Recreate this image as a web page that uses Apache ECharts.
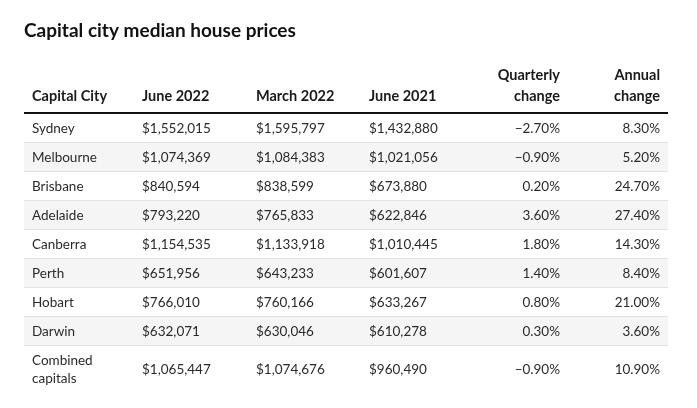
<!DOCTYPE html>
<html>
<head>
<meta charset="utf-8">
<script src="https://cdn.jsdelivr.net/npm/echarts@6/dist/echarts.min.js"></script>
<style>html,body{margin:0;padding:0;background:#fff;}#c{width:697px;height:408px;}</style>
</head>
<body>
<div id="c"></div>
<script>
const titleText = 'Capital city median house prices';
const headers = ['Capital City', 'June 2022', 'March 2022', 'June 2021', 'Quarterly\nchange', 'Annual\nchange'];
const cities = ['Sydney','Melbourne','Brisbane','Adelaide','Canberra','Perth','Hobart','Darwin','Combined\ncapitals'];
const june2022 = [1552015,1074369,840594,793220,1154535,651956,766010,632071,1065447];
const march2022 = [1595797,1084383,838599,765833,1133918,643233,760166,630046,1074676];
const june2021 = [1432880,1021056,673880,622846,1010445,601607,633267,610278,960490];
const quarterly = [-2.70,-0.90,0.20,3.60,1.80,1.40,0.80,0.30,-0.90];
const annual = [8.30,5.20,24.70,27.40,14.30,8.40,21.00,3.60,10.90];

const FONT = 'Lato';
const colX = [32, 142, 256, 369, 560, 660];
const colAlign = ['left','left','left','left','right','right'];
const tableLeft = 24, tableRight = 668;

function money(v){ return '$' + v.toLocaleString('en-US'); }
function pct(v){ return (v < 0 ? '\u2212' : '') + Math.abs(v).toFixed(2) + '%'; }

const rows = cities.map((c, i) => [i, c, money(june2022[i]), money(march2022[i]), money(june2021[i]), pct(quarterly[i]), pct(annual[i])]);

const chart = echarts.init(document.getElementById('c'), null, {renderer: 'canvas'});

const headerGraphics = headers.map((h, i) => {
  const multi = h.indexOf('\n') >= 0;
  return {
    type: 'text',
    x: colX[i],
    y: multi ? 106.5 : 96.5,
    style: {
      text: h,
      font: 'bold 14.5px ' + FONT,
      fill: '#1a1a1a',
      textAlign: colAlign[i],
      textVerticalAlign: multi ? 'bottom' : 'middle',
      lineHeight: 21
    }
  };
});
headerGraphics.push({
  type: 'rect',
  shape: {x: tableLeft, y: 112, width: tableRight - tableLeft, height: 2},
  style: {fill: '#111'}
});

chart.setOption({
  animation: false,
  backgroundColor: '#fff',
  title: {
    text: titleText,
    left: 24, top: 21, padding: 0,
    textStyle: {fontFamily: FONT, fontWeight: 'bold', fontSize: 19, color: '#111'}
  },
  grid: {left: tableLeft, right: 697 - tableRight, top: 114, height: 261},
  xAxis: {type: 'value', min: 0, max: tableRight - tableLeft, show: false},
  yAxis: {type: 'category', data: cities, inverse: true, show: false},
  graphic: headerGraphics,
  series: [{
    type: 'custom',
    data: rows,
    encode: {x: -1, y: 0},
    renderItem: function(params, api) {
      const idx = api.value(0);
      const center = api.coord([0, idx]);
      const band = api.size([0, 1])[1];
      const last = idx === cities.length - 1;
      const top = center[1] - band / 2;
      const h = last ? band * 1.62 : band;
      const cy = top + h / 2;
      const children = [];
      if (idx % 2 === 1) {
        children.push({type: 'rect', shape: {x: tableLeft, y: top, width: tableRight - tableLeft, height: h}, style: {fill: '#f5f5f5'}});
      }
      if (!last) {
        children.push({type: 'rect', shape: {x: tableLeft, y: top + h - 1, width: tableRight - tableLeft, height: 1}, style: {fill: '#e2e2e2'}});
      }
      for (let k = 0; k < 6; k++) {
        children.push({
          type: 'text',
          x: colX[k], y: cy,
          style: {
            text: rows[idx][k + 1],
            font: '13.5px ' + FONT,
            fill: '#2a2a2a',
            textAlign: colAlign[k],
            textVerticalAlign: 'middle',
            lineHeight: 18
          }
        });
      }
      return {type: 'group', children: children};
    }
  }]
});
</script>
</body>
</html>
